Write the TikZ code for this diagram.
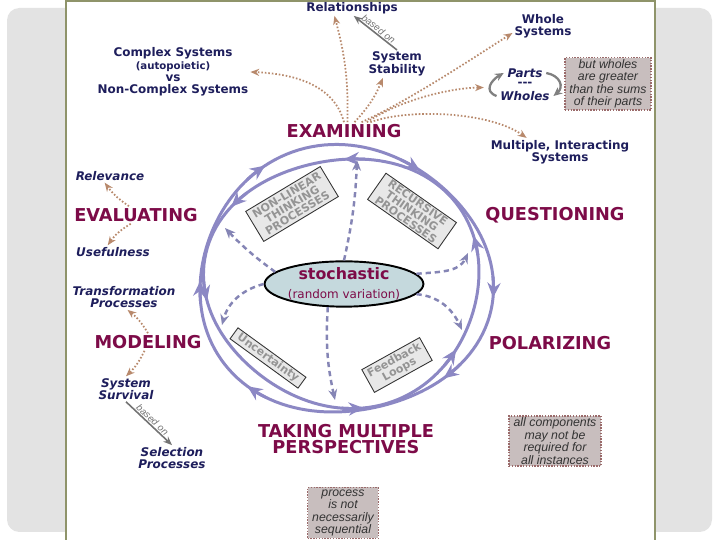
\documentclass[tikz,border=0pt]{standalone}
\usepackage{fontspec}
\setmainfont{DejaVu Sans}
\newfontfamily\notefont{Liberation Sans}
\usetikzlibrary{positioning,arrows.meta,shapes.geometric,calc}

\definecolor{stagec}{HTML}{7D0B48}
\definecolor{labc}{HTML}{1E1E5C}
\definecolor{ringc}{HTML}{8C88C4}
\definecolor{dotc}{HTML}{B8896C}
\definecolor{dashc}{HTML}{8585B5}
\definecolor{notefill}{HTML}{C8BEBE}
\definecolor{notedraw}{HTML}{9A6A6A}
\definecolor{panelc}{HTML}{8F946A}
\definecolor{bgc}{HTML}{E3E3E3}
\definecolor{stfill}{HTML}{C5D9DD}

\tikzset{
  stage/.style={text=stagec, font=\fontsize{10.1}{9.1}\selectfont\bfseries, align=center, inner sep=1pt},
  lab/.style={text=labc, font=\fontsize{6.8}{7}\selectfont\bfseries, align=center, inner sep=1pt},
  ilab/.style={lab, font=\fontsize{6.8}{7}\selectfont\bfseries\itshape},
  gbox/.style={draw=black!80, line width=0.5pt, fill=black!9, text=black!42,
    font=\fontsize{6.3}{6}\selectfont\bfseries, align=center, inner sep=0.5pt},
  note/.style={draw=notedraw, dash pattern=on 0.8pt off 0.8pt, line width=0.8pt, fill=notefill,
    text=black!80, font=\notefont\fontsize{7}{7.1}\selectfont\itshape, align=center, inner sep=1pt},
  stnode/.style={ellipse, draw=black, line width=1.1pt, fill=stfill, text=stagec,
    minimum width=2.76cm, minimum height=0.76cm, inner sep=0pt, align=center},
  dotarr/.style={draw=dotc, line width=1pt, dash pattern=on 0.9pt off 1.1pt, -{Stealth[length=5pt,width=4pt]}},
  dasharr/.style={draw=dashc, line width=1.4pt, dash pattern=on 3pt off 2.2pt, -{Stealth[length=6pt,width=5pt]}},
  based/.style={draw=black!55, line width=0.9pt, -{Stealth[length=5pt,width=4pt]}},
  basedtxt/.style={font=\notefont\fontsize{5.5}{6}\selectfont\itshape, text=black!55, inner sep=0.5pt},
  cyc/.style={draw=black!50, line width=1.3pt, -{Stealth[length=5pt,width=4.5pt]}},
  ring/.style={color=ringc, line width=1.7pt},
  ringtip/.style={ring, -{Stealth[length=8.5pt,width=7.5pt]}}
}

\begin{document}
\begin{tikzpicture}[x=0.02cm,y=0.02cm]
    \useasboundingbox (0,0) rectangle (720,540);

    % Background
    \fill[bgc, rounded corners=7pt] (7,8) rectangle (712,532);
    \fill[white] (66,-2) rectangle (655,539);
    \draw[panelc, line width=0.8pt] (66,-2) -- (66,539) -- (655,539) -- (655,-2);

    % Rings
    \draw[ring] plot[domain=0:360, samples=145, variable=\t]
        ({344+(146.5-4*sin(3*\t-45))*cos(\t)}, {259+(133.5-4*sin(3*\t-45))*sin(\t)}) -- cycle;
    \draw[ring] plot[domain=0:360, samples=145, variable=\t]
        ({344+(137.5+4*sin(3*\t-45))*cos(\t)}, {259+(124.5+4*sin(3*\t-45))*sin(\t)}) -- cycle;
    \foreach \a in {353,313,230,180,122,58} {
        \pgfmathsetmacro{\b}{\a+9}
        \draw[ringtip] plot[domain=\b:\a, samples=4, variable=\t]
            ({344+(146.5-4*sin(3*\t-45))*cos(\t)}, {259+(133.5-4*sin(3*\t-45))*sin(\t)});
    }
    \foreach \a in {21,90,144,189,278,326} {
        \pgfmathsetmacro{\b}{\a-9}
        \draw[ringtip] plot[domain=\b:\a, samples=4, variable=\t]
            ({344+(137.5+4*sin(3*\t-45))*cos(\t)}, {259+(124.5+4*sin(3*\t-45))*sin(\t)});
    }

    % Top labels
    \node[lab] (rel) at (352,532) {Relationships};
    \node[lab] (stab) at (397,476) {System\\Stability};
    \node[lab] (whole) at (543,514) {Whole\\Systems};
    \node[lab] (cplx) at (173,468) {Complex Systems\\{\fontsize{5.8}{7}\selectfont(autopoietic)}\\vs\\Non-Complex Systems};
    \node[ilab] (parts) at (525,467) {Parts};
    \node[lab] (pdash) at (525,456) {-{}-{}-};
    \node[ilab] (wholes) at (525,444) {Wholes};
    \node[note, minimum width=1.72cm, minimum height=1.02cm] (greater) at (608,456) {but wholes\\are greater\\than the sums\\of their parts};
    \node[lab] (multi) at (560,388) {Multiple, Interacting\\Systems};

    % Stages
    \node[stage] (exam) at (344,409) {EXAMINING};
    \node[stage] (eval) at (136,325) {EVALUATING};
    \node[stage] (quest) at (555,325) {QUESTIONING};
    \node[stage] (model) at (148,198) {MODELING};
    \node[stage] (polar) at (550,197) {POLARIZING};
    \node[stage] (taking) at (346,101) {TAKING MULTIPLE\\PERSPECTIVES};

    % Side labels
    \node[ilab] (relev) at (110,364) {Relevance};
    \node[ilab] (usef) at (113,288) {Usefulness};
    \node[ilab] (trans) at (124,243) {Transformation\\Processes};
    \node[ilab] (surv) at (126,151) {System\\Survival};
    \node[ilab] (sel) at (172,82) {Selection\\Processes};

    % Notes
    \node[note, minimum width=1.84cm, minimum height=1cm] (allcomp) at (555,99) {all components\\may not be\\required for\\all instances};
    \node[note, minimum width=1.42cm, minimum height=1.02cm] (seq) at (343,27) {process\\is not\\necessarily\\sequential};

    % Inner boxes
    \node[stnode] (st) at (344,256) {{\fontsize{9}{8}\selectfont\bfseries stochastic}\\[-1.5pt]{\fontsize{6.8}{8}\selectfont (random variation)}};
    \node[gbox, rotate=31, minimum width=1.74cm, minimum height=0.7cm] (nonlin) at (292,336) {NON-LINEAR\\THINKING\\PROCESSES};
    \node[gbox, rotate=-35, minimum width=1.72cm, minimum height=0.64cm] (recur) at (412,329) {RECURSIVE\\THINKING\\PROCESSES};
    \node[gbox, rotate=-36, minimum width=1.68cm, minimum height=0.27cm] (uncert) at (268,182) {Uncertainty};
    \node[gbox, rotate=29, minimum width=1.32cm, minimum height=0.52cm] (feed) at (397,175) {Feedback\\Loops};

    % Examining arrows
    \draw[dotarr] ([xshift=2pt]exam.north) to[bend right=8] ([xshift=-10pt]rel.south);
    \draw[dotarr] (exam.north) .. controls (335,452) and (300,466) .. (cplx.east);
    \draw[dotarr] ([xshift=6pt]exam.north) to[bend right=10] ([xshift=-8pt]stab.south);
    \draw[dotarr] ([xshift=10pt]exam.north) .. controls (410,440) and (470,480) .. ([yshift=-4pt]whole.west);
    \draw[dotarr] ([xshift=13pt]exam.north) .. controls (400,440) and (450,452) .. ([xshift=-18pt,yshift=-2pt]pdash.west);
    \draw[dotarr] ([xshift=15pt]exam.north) .. controls (410,432) and (490,428) .. ([xshift=-19pt]multi.north);

    % Evaluating and modeling arrows
    \draw[dotarr] ([xshift=-4pt]eval.north) to[bend left=10] ([xshift=-3pt]relev.south);
    \draw[dotarr] ([xshift=-3pt]eval.south) to[bend right=12] ([xshift=-3pt]usef.north);
    \draw[dotarr] (model.north) to[bend right=10] ([xshift=2pt]trans.south);
    \draw[dotarr] ([xshift=-2pt]model.south) to[bend left=10] (surv.north);

    % based on
    \draw[based] (stab.north) -- node[sloped, above, basedtxt] {based on} ([xshift=1pt]rel.south);
    \draw[based] (surv.south) -- node[sloped, above, basedtxt] {based on} (sel.north);

    % Parts and wholes
    \draw[cyc] ([xshift=-1pt]wholes.west) to[out=160,in=210,looseness=1.5] ([xshift=-1pt]parts.west);
    \draw[cyc] ([xshift=1pt]parts.east) to[out=-10,in=40,looseness=1.5] ([xshift=1pt]wholes.east);

    % Stochastic arrows
    \coordinate (dtop) at (357,380);
    \coordinate (dul) at (225,312);
    \coordinate (dll) at (222,215);
    \coordinate (dbot) at (335,140);
    \coordinate (dlr) at (462,210);
    \coordinate (dur) at (468,287);
    \draw[dasharr] (st.north) to[bend right=5] (dtop);
    \draw[dasharr] (st.170) to[bend left=5] (dul);
    \draw[dasharr] (st.west) to[out=195,in=75] (dll);
    \draw[dasharr] (st.-125) to[bend right=8] (dbot);
    \draw[dasharr] (st.-8) to[out=-5,in=115] (dlr);
    \draw[dasharr] (st.8) to[out=5,in=-115] (dur);
\end{tikzpicture}
\end{document}
